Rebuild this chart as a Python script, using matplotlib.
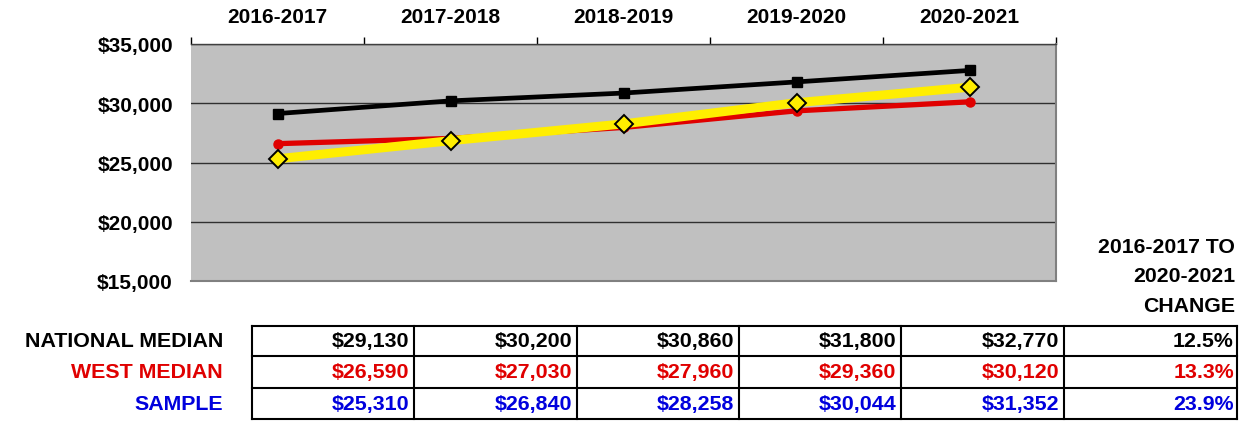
import matplotlib
matplotlib.use('Agg')
import matplotlib.pyplot as plt
import matplotlib.ticker as mticker
from matplotlib.lines import Line2D

plt.rcParams['font.family'] = ['Liberation Sans', 'DejaVu Sans']
plt.rcParams['font.weight'] = 'bold'
plt.rcParams['font.size'] = 15

# data
years = ['2016-2017', '2017-2018', '2018-2019', '2019-2020', '2020-2021']
national = [29130, 30200, 30860, 31800, 32770]
west = [26590, 27030, 27960, 29360, 30120]
sample = [25310, 26840, 28258, 30044, 31352]
changes = ['12.5%', '13.3%', '23.9%']
row_names = ['NATIONAL MEDIAN', 'WEST MEDIAN', 'SAMPLE']
y_ticks = [15000, 20000, 25000, 30000, 35000]

RED = '#e00000'
BLUE = '#0000dd'
YELLOW = '#ffee00'
W, H = 1239, 427

fig = plt.figure(figsize=(W / 100, H / 100), dpi=100)


def fx(px):
    return px / W


def fy(py):
    return 1 - py / H


# --- chart ---
ax = fig.add_axes([fx(191), fy(282), fx(1056 - 191), fy(45) - fy(282)])
ax.set_facecolor('#c0c0c0')
x = range(len(years))
ax.plot(x, national, color='black', lw=3.4, marker='s', ms=6.5, zorder=4)
ax.plot(x, west, color=RED, lw=3.8, marker='o', ms=6.5, zorder=3)
ax.plot(x, sample, color=YELLOW, lw=6.5, marker='D', ms=9, mec='black', mew=1.4,
        mfc=YELLOW, zorder=5)

ax.set_xlim(-0.5, len(years) - 0.5)
ax.set_ylim(15000, 35000)
ax.set_yticks(y_ticks)
ax.yaxis.set_major_formatter(mticker.FuncFormatter(lambda v, p: '${:,.0f}'.format(v)))
ax.tick_params(axis='y', length=0, pad=13, labelsize=15)
ax.grid(axis='y', color='#303030', lw=1)
ax.set_axisbelow(True)

ax.xaxis.tick_top()
ax.set_xticks(list(x))
ax.set_xticklabels(years, fontsize=15)
ax.set_xticks([i - 0.5 for i in range(len(years) + 1)], minor=True)
ax.tick_params(axis='x', which='major', length=0, pad=13)
ax.tick_params(axis='x', which='minor', length=5, width=1, direction='out', color='black')

for s in ['bottom', 'right']:
    ax.spines[s].set_color('#808080')
    ax.spines[s].set_linewidth(1.5)
ax.spines['left'].set_visible(False)
ax.spines['top'].set_color('#404040')
ax.spines['top'].set_linewidth(1)

# --- change header ---
for txt, py in zip(['2016-2017 TO', '2020-2021', 'CHANGE'], [248, 277, 307]):
    fig.text(fx(1235), fy(py), txt, ha='right', va='center', fontsize=15.3)

# --- table ---
col_edges = [252, 414, 577, 739, 901, 1064, 1237]
row_edges = [327, 357, 389, 420]
rows = [(national, 'black'), (west, RED), (sample, BLUE)]

for py in row_edges:
    fig.add_artist(Line2D([fx(col_edges[0]), fx(col_edges[-1])], [fy(py), fy(py)],
                          color='black', lw=1.5, transform=fig.transFigure))
for px in col_edges:
    fig.add_artist(Line2D([fx(px), fx(px)], [fy(row_edges[0]), fy(row_edges[-1])],
                          color='black', lw=1.5, transform=fig.transFigure))

for r, ((vals, c), name, ch) in enumerate(zip(rows, row_names, changes)):
    yc = (row_edges[r] + row_edges[r + 1]) / 2
    fig.text(fx(223), fy(yc), name, ha='right', va='center', color=c, fontsize=15.4)
    for j, v in enumerate(vals):
        fig.text(fx(col_edges[j + 1] - 5), fy(yc), '${:,}'.format(v),
                 ha='right', va='center', color=c, fontsize=15.4)
    fig.text(fx(col_edges[-1] - 3), fy(yc), ch, ha='right', va='center', color=c, fontsize=15.4)

fig.savefig('out.png', dpi=100)
